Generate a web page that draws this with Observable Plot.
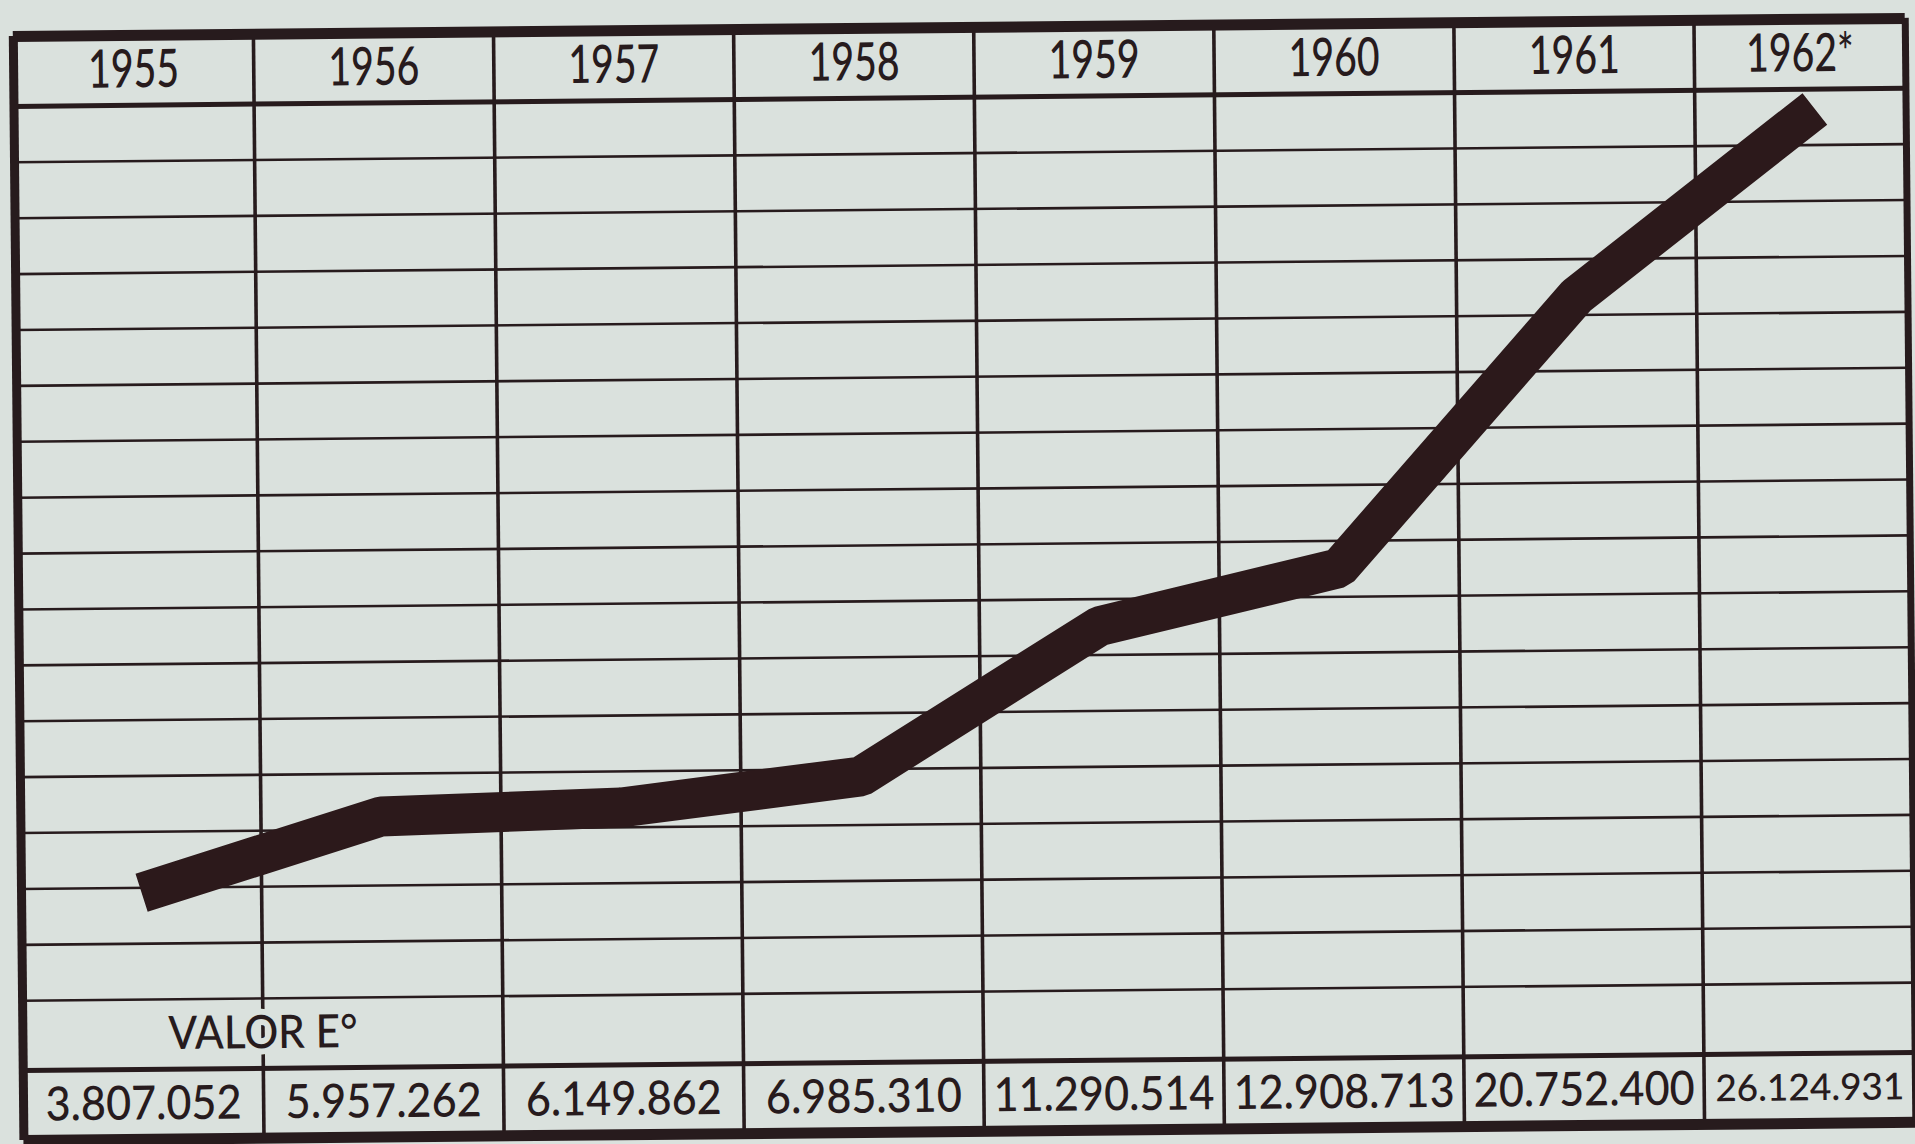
<!DOCTYPE html>
<html>
<head>
<meta charset="utf-8">
<script src="https://cdn.jsdelivr.net/npm/d3@7"></script>
<script src="https://cdn.jsdelivr.net/npm/@observablehq/plot@0.6"></script>
<style>
  html, body { margin: 0; padding: 0; background: #dae1dd; overflow: hidden; }
  #chart svg { display: block; transform: rotate(-0.55deg); transform-origin: 50% 50%; }
</style>
</head>
<body>
<div id="chart"></div>
<script>
// ---- data ----
const years = ["1955", "1956", "1957", "1958", "1959", "1960", "1961", "1962*"];
const values = [3807052, 5957262, 6149862, 6985310, 11290514, 12908713, 20752400, 26124931];
const rowLabel = "VALOR E°";

// ---- layout ----
const ink = "#271b1d";
const lineColor = "#2c191b";
const paper = "#dae1dd";
const font = "Lato, 'Noto Sans', sans-serif";

const gridLow = 700000, rowStep = 1625000, gridRows = 16;
const gridHigh = gridLow + gridRows * rowStep;
const bandRows = 1.25;
const headerTop = gridHigh + bandRows * rowStep;
const valorBottom = gridLow - bandRows * rowStep;
const tableBottom = valorBottom - bandRows * rowStep;
const xMax = 7.88;

const fmt = d3.formatLocale({decimal: ",", thousands: ".", grouping: [3], currency: ["", ""]}).format(",d");

const data = years.map((year, i) => ({year, i, value: values[i]}));
const cellMid = d => (d.i + Math.min(d.i + 1, xMax)) / 2;
const narrowCell = d => d.i + 1 > xMax;

const chart = Plot.plot({
  width: 1915,
  height: 1144,
  marginLeft: 18,
  marginRight: 5,
  marginTop: 27,
  marginBottom: 13,
  style: {background: "transparent"},
  x: {domain: [0, xMax], axis: null},
  y: {domain: [tableBottom, headerTop], axis: null},
  marks: [
    // horizontal grid
    Plot.ruleY(d3.range(gridRows + 1).map(k => gridLow + k * rowStep), {stroke: ink, strokeWidth: 2.6}),
    Plot.ruleY([gridHigh, valorBottom], {stroke: ink, strokeWidth: 5}),
    // column separators
    Plot.ruleX(d3.range(1, years.length), {stroke: ink, strokeWidth: 3.6}),
    // outer border
    Plot.ruleY([headerTop, tableBottom], {stroke: ink, strokeWidth: 11}),
    Plot.ruleX([0], {stroke: ink, strokeWidth: 9}),
    Plot.ruleX([xMax], {stroke: ink, strokeWidth: 7}),
    // the series
    Plot.line(data, {
      x: d => d.i + 0.5, y: "value",
      stroke: lineColor, strokeWidth: 40,
      strokeLinejoin: "miter", strokeLinecap: "butt"
    }),
    // header
    Plot.text(data, {
      x: cellMid, y: () => (gridHigh + headerTop) / 2, text: "year",
      fontSize: 53, fontWeight: 500, fill: ink, fontFamily: font
    }),
    // row label
    Plot.text([rowLabel], {
      x: () => 1, y: () => (gridLow + valorBottom) / 2, text: d => d,
      fontSize: 46, fontWeight: 500, fill: ink, fontFamily: font,
      stroke: paper, strokeWidth: 12
    }),
    // values
    Plot.text(data, {
      x: cellMid,
      y: () => (valorBottom + tableBottom) / 2, text: d => fmt(d.value),
      fontSize: d => narrowCell(d) ? 37 : 47, fontWeight: 500, fill: ink, fontFamily: font
    })
  ]
});

document.getElementById("chart").appendChild(chart);

// narrow the lettering like the printed geometric face
const textGroups = chart.querySelectorAll('g[aria-label="text"]');
const factors = [0.74, 0.92, 0.92];
textGroups.forEach((g, k) => {
  const f = factors[k] ?? 1;
  const texts = g.querySelectorAll("text");
  texts.forEach((t, j) => {
    if (k === 2 && j === texts.length - 1) return; // the narrow last cell keeps its natural width
    const len = t.getComputedTextLength();
    if (len > 0) {
      t.setAttribute("textLength", (len * f).toFixed(1));
      t.setAttribute("lengthAdjust", "spacingAndGlyphs");
    }
  });
});
</script>
</body>
</html>
